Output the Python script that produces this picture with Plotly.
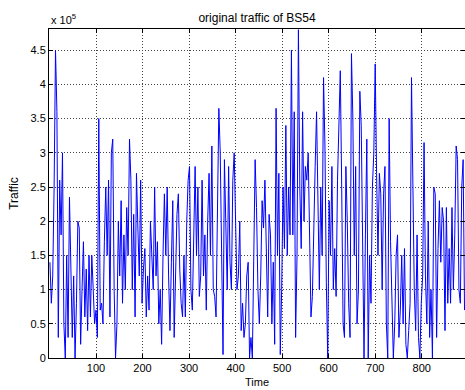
import plotly.graph_objects as go

# Traffic of BS54, in units of 10^5, sampled every 3 time steps starting at t=1
T0 = 1
STEP = 3
traffic_e5 = [
    1.4, 0.8, 1.2, 2.5, 4.5, 3.6, 0.3, 2.6, 1.8, 3.0,
    0.5, 0.0, 1.5, 0.3, 2.35, 1.0, 0.3, 1.2, 0.0, 0.8,
    2.0, 1.9, 0.2, 1.0, 1.7, 0.6, 1.3, 0.4, 1.5, 0.6,
    1.5, 1.0, 0.5, 0.7, 0.3, 3.5, 0.7, 0.8, 0.5, 1.7,
    2.5, 1.5, 2.6, 0.6, 3.0, 3.2, 1.0, 0.0, 0.5, 2.0,
    1.2, 2.3, 0.8, 1.8, 1.0, 2.2, 1.5, 3.2, 2.6, 1.0,
    2.1, 0.6, 2.7, 1.9, 1.2, 2.6, 0.8, 1.3, 1.6, 0.6,
    1.2, 0.7, 2.0, 1.5, 1.0, 2.5, 1.2, 1.7, 0.5, 1.0,
    0.2, 1.5, 2.4, 1.5, 2.5, 1.2, 0.4, 1.4, 2.3, 0.3,
    1.2, 2.1, 2.4, 1.3, 0.8, 0.6, 1.5, 0.6, 2.0, 2.6,
    2.8, 1.0, 0.7, 2.0, 2.8, 1.5, 2.5, 0.9, 1.2, 2.6,
    1.2, 1.8, 0.7, 2.0, 2.7, 1.5, 3.1, 1.0, 0.9, 0.6,
    2.5, 3.65, 3.0, 1.2, 0.05, 2.9, 1.8, 1.0, 2.8, 1.4,
    1.0, 2.6, 3.0, 1.8, 1.0, 1.2, 2.0, 0.4, 0.8, 0.3,
    0.5, 1.2, 1.4, 0.0, 0.3, 0.0, 1.5, 2.9, 2.2, 1.0,
    0.5, 1.2, 2.3, 1.9, 2.6, 1.3, 0.6, 2.1, 1.8, 0.5,
    1.4, 0.2, 3.65, 1.5, 2.7, 0.05, 1.0, 2.5, 1.6, 3.4,
    1.5, 2.5, 1.8, 4.5, 1.8, 3.6, 0.3, 1.5, 4.8, 2.5,
    1.6, 3.6, 2.0, 2.8, 2.6, 3.0, 1.5, 0.6, 0.9, 2.0,
    2.8, 3.6, 2.2, 1.0, 2.5, 1.5, 4.1, 3.1, 1.1, 0.0,
    2.3, 1.5, 2.8, 1.0, 1.6, 0.9, 2.6, 3.3, 4.2, 2.5,
    0.5, 0.3, 2.8, 2.0, 0.8, 0.3, 4.45, 3.5, 1.5, 2.8,
    0.5, 1.0, 3.9, 3.4, 1.3, 0.0, 1.8, 3.2, 0.0, 1.5,
    0.8, 2.5, 3.0, 4.3, 2.7, 1.5, 2.7, 2.4, 1.0, 2.4,
    2.8, 0.5, 0.0, 3.5, 1.7, 0.6, 0.0, 0.5, 1.5, 1.8,
    0.3, 0.7, 1.5, 0.5, 1.6, 0.2, 0.0, 0.4, 0.8, 4.1,
    2.4, 1.0, 0.4, 1.8, 0.3, 0.0, 0.8, 1.2, 3.15, 1.2,
    0.5, 2.0, 0.3, 1.0, 0.0, 2.5, 2.4, 0.3, 1.6, 2.3,
    1.4, 2.2, 2.0, 0.4, 2.2, 0.8, 1.6, 0.8, 2.2, 1.0,
    1.8, 3.1, 2.9, 1.0, 0.8, 2.5, 2.9, 0.7,
]
time = [T0 + STEP * i for i in range(len(traffic_e5))]

x_ticks = [100, 200, 300, 400, 500, 600, 700, 800]
y_ticks = [0, 0.5, 1, 1.5, 2, 2.5, 3, 3.5, 4, 4.5]

FONT = "Liberation Sans, Arial, Helvetica, sans-serif"

fig = go.Figure(
    go.Scatter(
        x=time,
        y=traffic_e5,
        mode="lines",
        line=dict(color="#0000ff", width=1),
        showlegend=False,
        hoverinfo="skip",
    )
)

axis_common = dict(
    showline=True,
    linecolor="black",
    linewidth=1,
    mirror="ticks",
    ticks="inside",
    ticklen=4,
    tickcolor="black",
    showgrid=True,
    gridcolor="#444444",
    griddash="1px,2px",
    gridwidth=1,
    zeroline=False,
    tickfont=dict(family=FONT, size=11, color="black"),
)

fig.update_layout(
    width=465,
    height=390,
    margin=dict(l=49, r=0, t=29, b=32),
    paper_bgcolor="white",
    plot_bgcolor="white",
    font=dict(family=FONT, size=11, color="black"),
    title=dict(
        text="original traffic of BS54",
        x=0.5527,
        xanchor="center",
        y=1 - 18 / 390,
        yanchor="middle",
        font=dict(family=FONT, size=12, color="black"),
    ),
    xaxis=dict(
        range=[-1, 893],
        tickvals=x_ticks,
        ticktext=[str(v) for v in x_ticks],
        title=dict(text="Time", font=dict(family=FONT, size=11), standoff=5),
        **axis_common,
    ),
    yaxis=dict(
        range=[0, 4.81],
        tickvals=y_ticks,
        ticktext=[f"{v:g}" for v in y_ticks],
        title=dict(text="Traffic", font=dict(family=FONT, size=12), standoff=9),
        **axis_common,
    ),
    annotations=[
        dict(
            text="x 10<sup>5</sup>",
            xref="paper",
            yref="paper",
            x=0,
            y=1,
            xanchor="left",
            yanchor="bottom",
            yshift=1,
            showarrow=False,
            font=dict(family=FONT, size=11, color="black"),
        )
    ],
)

fig.write_html(
    "out.html",
    config={"displayModeBar": False, "staticPlot": True},
    post_script="document.body.style.margin='0';document.body.style.padding='0';",
)
